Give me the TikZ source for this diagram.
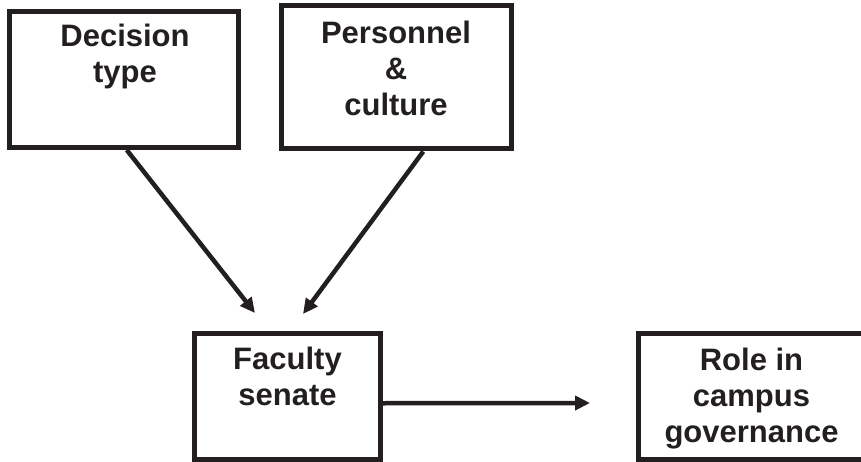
\documentclass[tikz,border=0pt]{standalone}
\usepackage{fontspec}
\setmainfont{Liberation Sans}
\usetikzlibrary{arrows.meta}
\definecolor{ink}{HTML}{231F20}

\begin{document}
\begin{tikzpicture}
[
  x=1pt, y=-1pt,
  box/.style={rectangle, draw=ink, line width=5pt, inner sep=0pt},
  boxtext/.style={anchor=north, align=center, inner sep=0pt, text=ink, font=\bfseries\fontsize{31}{36}\selectfont},
  link/.style={draw=ink, line width=4.5pt, -{Triangle[length=15pt,width=14pt]}}
]
\useasboundingbox (0,0) rectangle (861,462);

\node (dec) [box, minimum width=228.5pt, minimum height=136pt] at (123.75,79.5) {};
\node (pers) [box, minimum width=229.5pt, minimum height=143.5pt] at (396.25,77.25) {};
\node (sen) [box, minimum width=186pt, minimum height=126.5pt] at (287.5,396.25) {};
\node (role) [box, minimum width=227pt, minimum height=126pt] at (751.5,396.5) {};

\node (dect) [boxtext] at (125,24) {Decision\\type};
\node (perst) [boxtext] at (396,21) {Personnel\\\&\\culture};
\node (sent) [boxtext] at (287.5,347) {Faculty\\senate};
\node (rolet) [boxtext] at (751.5,348) {Role in\\campus\\governance};

\coordinate (tipl) at (255,313);
\coordinate (tipr) at (303,314);
\coordinate (tipg) at (590,403);

\draw [link] ([xshift=3pt]dec.south) -- (tipl);
\draw [link] ([xshift=27pt]pers.south) -- (tipr);
\draw [link] ([yshift=-7pt]sen.east) -- (tipg);
\end{tikzpicture}
\end{document}
